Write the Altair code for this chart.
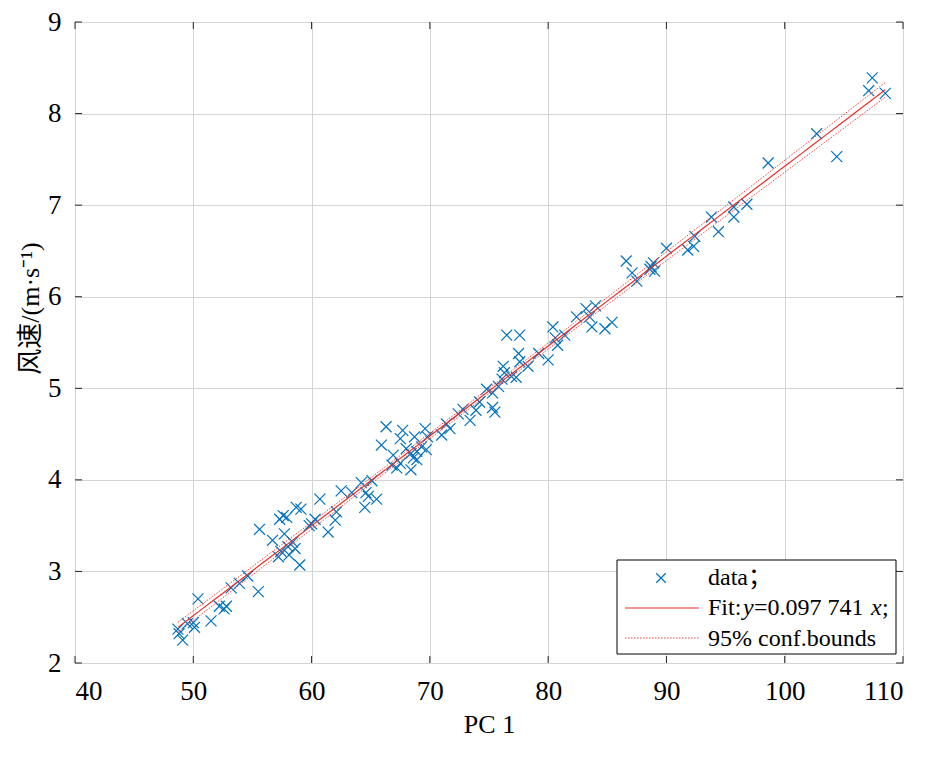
import altair as alt
import numpy as np
import pandas as pd

# PC 1 score and wind speed
pc1 = [48.7, 49.1, 48.8, 50.0, 50.1, 49.5, 50.4, 51.5, 52.2, 52.8,
       52.6, 53.2, 53.9, 54.6, 55.5, 55.6, 56.7, 57.2, 57.3, 57.6,
       57.9, 58.7, 59.1, 57.7, 58.0, 58.4, 58.6, 58.1, 57.4, 59.0,
       60.0, 60.7, 60.3, 59.8, 61.4, 62.0, 62.1, 62.5, 63.4, 64.2,
       64.6, 64.8, 65.5, 64.5, 65.1, 66.3, 65.9, 67.7, 67.5, 68.7,
       69.6, 68.0, 68.4, 68.9, 69.3, 69.7, 68.6, 68.9, 66.8, 67.2,
       67.5, 66.9, 68.4, 69.8, 71.0, 71.4, 76.5, 77.6, 80.4, 80.6,
       80.8, 80.0, 79.2, 78.3, 77.5, 77.6, 76.2, 76.3, 76.9, 77.3,
       76.1, 75.8, 74.8, 75.3, 74.2, 75.3, 75.5, 72.8, 73.4, 73.9,
       72.4, 71.7, 82.4, 86.6, 87.1, 87.5, 88.7, 89.0, 90.0, 83.2,
       84.0, 83.5, 83.7, 84.8, 85.4, 81.4, 107.4, 107.1, 108.5, 102.7,
       104.4, 98.6, 96.8, 95.7, 95.7, 94.4, 93.8, 92.4, 92.3, 91.8,
       88.9, 88.6]
speed = [2.37, 2.25, 2.32, 2.44, 2.39, 2.43, 2.70, 2.46, 2.62, 2.62,
         2.59, 2.82, 2.87, 2.95, 2.78, 3.46, 3.34, 3.16, 3.57, 3.61,
         3.59, 3.70, 3.68, 3.41, 3.27, 3.32, 3.25, 3.18, 3.22, 3.07,
         3.52, 3.79, 3.57, 3.50, 3.43, 3.56, 3.65, 3.88, 3.86, 3.97,
         3.86, 3.82, 3.79, 3.70, 3.99, 4.58, 4.38, 4.54, 4.45, 4.47,
         4.56, 4.34, 4.29, 4.31, 4.36, 4.33, 4.24, 4.22, 4.16, 4.13,
         4.18, 4.27, 4.11, 4.47, 4.49, 4.61, 5.58, 5.58, 5.67, 5.55,
         5.47, 5.31, 5.38, 5.24, 5.38, 5.29, 5.24, 5.17, 5.13, 5.12,
         5.10, 5.02, 4.99, 4.95, 4.85, 4.79, 4.74, 4.77, 4.65, 4.76,
         4.72, 4.56, 5.78, 6.39, 6.26, 6.17, 6.33, 6.28, 6.53, 5.87,
         5.90, 5.78, 5.67, 5.65, 5.72, 5.58, 8.39, 8.25, 8.22, 7.78,
         7.53, 7.46, 7.01, 6.98, 6.87, 6.71, 6.87, 6.66, 6.55, 6.51,
         6.37, 6.30]

x_ticks = [40, 50, 60, 70, 80, 90, 100, 110]
y_ticks = [2, 3, 4, 5, 6, 7, 8, 9]

W, H = 828, 641
SERIF = "Liberation Serif, Noto Sans CJK SC"
BLUE = "#0072BD"
RED = "#e8302a"
AX = "#262626"

xs = alt.Scale(domain=[40, 110], nice=False)
ys = alt.Scale(domain=[2, 9], nice=False)
x_axis = alt.Axis(values=x_ticks, ticks=False, domain=False, grid=True,
                  labelPadding=15, titleY=61, titleBaseline="middle")
y_axis = alt.Axis(values=y_ticks, ticks=False, domain=False, grid=True,
                  labelPadding=14, titleX=-45, titleY=286,
                  titleBaseline="middle", titleAngle=-90)


def X(field="pc1"):
    return alt.X(f"{field}:Q", scale=xs, axis=x_axis, title="PC 1")


def Y(field="speed"):
    return alt.Y(f"{field}:Q", scale=ys, axis=y_axis, title="风速/(m·s⁻¹)")


df = pd.DataFrame({"pc1": pc1, "speed": speed})

points = alt.Chart(df).mark_point(
    shape="M-1,-1L1,1M-1,1L1,-1", filled=False, color=BLUE,
    size=120, strokeWidth=1.2, opacity=1,
).encode(x=X(), y=Y())

# least squares line and 95% confidence bounds of the fit
xv, yv = np.array(pc1), np.array(speed)
b1, b0 = np.polyfit(xv, yv, 1)
n = len(xv)
s = np.sqrt(np.sum((yv - (b0 + b1 * xv)) ** 2) / (n - 2))
sxx = np.sum((xv - xv.mean()) ** 2)
grid = np.linspace(xv.min(), xv.max(), 60)
yhat = b0 + b1 * grid
half = 1.98 * s * np.sqrt(1 / n + (grid - xv.mean()) ** 2 / sxx)

fit_df = pd.DataFrame({"pc1": grid, "speed": yhat})
fit = alt.Chart(fit_df).mark_line(color=RED, strokeWidth=1.2).encode(x=X(), y=Y())

bound_df = pd.concat([
    pd.DataFrame({"pc1": grid, "speed": yhat + half, "side": "upper"}),
    pd.DataFrame({"pc1": grid, "speed": yhat - half, "side": "lower"}),
])
bounds = alt.Chart(bound_df).mark_line(
    color=RED, strokeWidth=0.9, strokeDash=[1.5, 1.5]
).encode(x=X(), y=Y(), detail="side:N")

# MATLAB style inward ticks on all four sides
xt = pd.DataFrame({"pc1": x_ticks})
yt = pd.DataFrame({"speed": y_ticks})
tick_style = dict(color=AX, strokeWidth=1)
ticks = [
    alt.Chart(xt).mark_rule(**tick_style).encode(x=X(), y=alt.value(H), y2=alt.value(H - 7)),
    alt.Chart(xt).mark_rule(**tick_style).encode(x=X(), y=alt.value(0), y2=alt.value(7)),
    alt.Chart(yt).mark_rule(**tick_style).encode(y=Y(), x=alt.value(0), x2=alt.value(7)),
    alt.Chart(yt).mark_rule(**tick_style).encode(y=Y(), x=alt.value(W), x2=alt.value(W - 7)),
]

# legend box, bottom right
one = pd.DataFrame({"k": [0]})
box = alt.Chart(one).mark_rect(fill="white", stroke="black", strokeWidth=1).encode(
    x=alt.value(542), x2=alt.value(821), y=alt.value(538), y2=alt.value(632))
leg_mark = alt.Chart(one).mark_point(
    shape="M-1,-1L1,1M-1,1L1,-1", filled=False, color=BLUE, size=90,
    strokeWidth=1.2, opacity=1,
).encode(x=alt.value(586), y=alt.value(556))
leg_fit = alt.Chart(one).mark_rule(color=RED, strokeWidth=1.2).encode(
    x=alt.value(550), x2=alt.value(624), y=alt.value(586))
leg_bound = alt.Chart(one).mark_rule(color=RED, strokeWidth=0.9, strokeDash=[1.5, 1.5]).encode(
    x=alt.value(550), x2=alt.value(624), y=alt.value(616))


def label(text, x, y, italic=False):
    return alt.Chart(pd.DataFrame({"t": [text]})).mark_text(
        align="left", baseline="middle", font=SERIF, fontSize=24,
        fontStyle="italic" if italic else "normal", color="black",
    ).encode(text="t:N", x=alt.value(x), y=alt.value(y))


texts = [
    label("data；", 633, 556),
    label("Fit:", 633, 586),
    label("y", 668, 586, italic=True),
    label("=0.097 741", 679, 586),
    label("x", 796, 586, italic=True),
    label(";", 807, 586),
    label("95% conf.bounds", 633, 617),
]

chart = alt.layer(
    points, bounds, fit, *ticks, box, leg_mark, leg_fit, leg_bound, *texts
).properties(
    width=W, height=H,
    autosize=alt.AutoSizeParams(type="none"),
    padding={"left": 67, "top": 14, "right": 16, "bottom": 93},
).configure_view(
    stroke=AX, strokeWidth=1
).configure_axis(
    labelFont=SERIF, labelFontSize=27, labelColor="black",
    titleFont=SERIF, titleFontSize=26, titleColor="black", titleFontWeight="normal",
    gridColor="#d4d4d4", gridWidth=1,
)

chart.save("out.html", embed_options={"renderer": "svg", "actions": False})
